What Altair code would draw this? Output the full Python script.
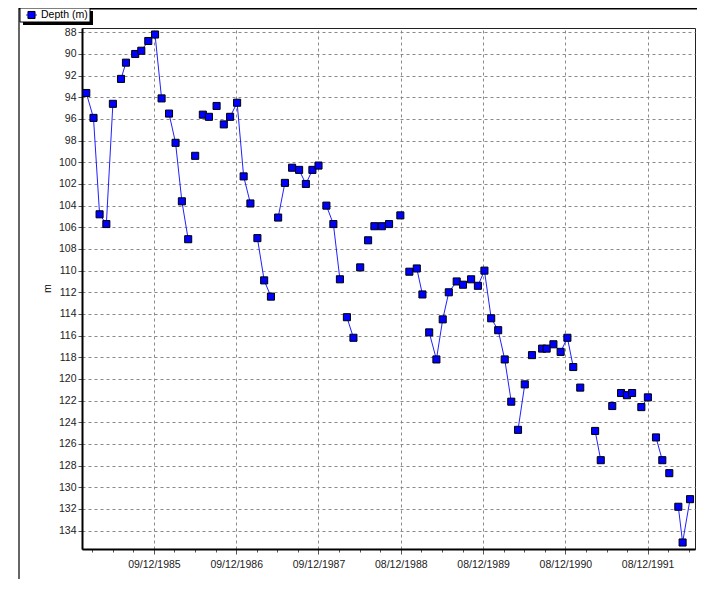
import altair as alt
import pandas as pd

# ---- data ----
dates = [
    "1985-02-12", "1985-03-16", "1985-04-12", "1985-05-12", "1985-06-10",
    "1985-07-16", "1985-08-07", "1985-09-17", "1985-10-14", "1985-11-14",
    "1985-12-14", "1986-01-12", "1986-02-14", "1986-03-15", "1986-04-12",
    "1986-05-10", "1986-06-10", "1986-07-14", "1986-08-10", "1986-09-13",
    "1986-10-15", "1986-11-12", "1986-12-13", "1987-01-11", "1987-02-10",
    "1987-03-13", "1987-04-12", "1987-05-12", "1987-06-13", "1987-07-13",
    "1987-08-14", "1987-09-14", "1987-10-14", "1987-11-12", "1987-12-09",
    "1988-01-13", "1988-02-13", "1988-03-13", "1988-04-13", "1988-05-12",
    "1988-06-11", "1988-07-16", "1988-08-13", "1988-09-15", "1988-10-17",
    "1988-12-06", "1989-01-15", "1989-02-17", "1989-03-14", "1989-04-13",
    "1989-05-15", "1989-06-12", "1989-07-09", "1989-08-13", "1989-09-10",
    "1989-10-16", "1989-11-15", "1989-12-14", "1990-01-13", "1990-02-13",
    "1990-03-14", "1990-04-12", "1990-05-12", "1990-06-11", "1990-07-13",
    "1990-08-27", "1990-09-16", "1990-10-16", "1990-11-17", "1990-12-17",
    "1991-01-12", "1991-02-12", "1991-04-19", "1991-05-14", "1991-07-04",
    "1991-08-12", "1991-09-07", "1991-09-30", "1991-11-10", "1991-12-09",
    "1992-01-14", "1992-02-11", "1992-03-13", "1992-04-22", "1992-05-11",
    "1992-06-13",
]
depth = [
    93.6, 95.9, 104.8, 105.7, 94.6,
    92.3, 90.8, 90.0, 89.7, 88.8,
    88.2, 94.1, 95.5, 98.2, 103.6,
    107.1, 99.4, 95.6, 95.8, 94.8,
    96.5, 95.8, 94.5, 101.3, 103.8,
    107.0, 110.9, 112.4, 105.1, 101.9,
    100.5, 100.7, 102.0, 100.7, 100.3,
    104.0, 105.7, 110.8, 114.3, 116.2,
    109.7, 107.2, 105.9, 105.9, 105.7,
    104.9, 110.1, 109.8, 112.2, 115.7,
    118.2, 114.5, 112.0, 111.0, 111.3,
    110.8, 111.4, 110.0, 114.4, 115.5,
    118.2, 122.1, 124.7, 120.5, 117.8,
    117.2, 117.2, 116.8, 117.5, 116.2,
    118.9, 120.8, 124.8, 127.5, 122.5,
    121.3, 121.5, 121.3, 122.6, 121.7,
    125.4, 127.5, 128.7, 131.8, 135.1,
    131.1,
]
# groups of readings joined by a line
segment = [
    1, 1, 1, 1, 1,
    2, 2, 3, 3, 3,
    3, 3, 4, 4, 4,
    4, 5, 6, 6, 7,
    8, 8, 8, 8, 8,
    9, 9, 9, 10, 10,
    11, 11, 11, 11, 11,
    12, 12, 12, 13, 13,
    14, 15, 16, 16, 16,
    17, 18, 18, 18, 19,
    19, 19, 19, 19, 19,
    19, 19, 19, 19, 19,
    19, 19, 20, 20, 21,
    22, 22, 22, 22, 22,
    22, 23, 24, 24, 25,
    26, 26, 26, 27, 27,
    28, 28, 29, 30, 30,
    30,
]
series_name = "Depth (m)"
y_ticks = list(range(88, 135, 2))
first_tick = "1985-12-09"          # axis ticks every 365 days, minor every quarter
font = "Liberation Sans"

df = pd.DataFrame({"date": dates, "depth": depth, "segment": segment})

base_ms = pd.Timestamp(first_tick).value // 10**6
day_ms = 86400000
x_tick_values = [int(base_ms + round(k * 91.25 * day_ms)) for k in range(-3, 27)]
major = "utcmonth(datum.value) == 11"

x_enc = alt.X(
    "date:T",
    scale=alt.Scale(
        type="utc",
        domain=[alt.DateTime(year=1985, month=1, date=24, utc=True),
                alt.DateTime(year=1992, month=7, date=5, utc=True)],
        nice=False,
    ),
    axis=alt.Axis(
        values=x_tick_values,
        labelExpr=f"{major} ? utcFormat(datum.value, '%d/%m/%Y') : ''",
        title=None,
        grid=True,
        gridColor="#8a8a8a",
        gridDash=[3, 3],
        gridWidth=1,
        gridOpacity={"condition": {"test": major, "value": 1}, "value": 0},
        tickSize={"condition": {"test": major, "value": 5}, "value": 3},
        tickColor="#555555",
        domainColor="#000000",
        domainWidth=2,
        labelFont=font,
        labelFontSize=10.5,
        labelColor="#222222",
        labelPadding=5,
        labelOverlap=False,
        labelFlush=False,
    ),
)
y_enc = alt.Y(
    "depth:Q",
    scale=alt.Scale(domain=[87.6, 135.7], reverse=True, nice=False, zero=False),
    axis=alt.Axis(
        values=y_ticks,
        title="m",
        titleFont=font,
        titleFontSize=10.5,
        titleFontWeight="normal",
        titleColor="#000000",
        titleAngle=270,
        titleX=-35,
        titleY=260,
        titleAlign="center",
        titleBaseline="middle",
        grid=True,
        gridColor="#8a8a8a",
        gridDash=[3, 3],
        gridWidth=1,
        tickSize=4,
        tickColor="#555555",
        domainColor="#000000",
        domainWidth=2,
        labelFont=font,
        labelFontSize=10.5,
        labelColor="#222222",
        labelPadding=2,
    ),
)

lines = alt.Chart(df).mark_line(color="#2020ff", strokeWidth=1).encode(
    x=x_enc, y=y_enc, detail="segment:N"
)
points = alt.Chart(df).mark_square(
    size=50, filled=True, fill="#0000ff", stroke="#000000", strokeWidth=1, opacity=1
).encode(x=x_enc, y=y_enc)

one = alt.Data(values=[{"k": 0}])

frame_left = alt.Chart(one).mark_rule(color="#666666", strokeWidth=2).encode(
    x=alt.value(-63), y=alt.value(-20), y2=alt.value(600)
)
frame_top = alt.Chart(one).mark_rule(color="#000000", strokeWidth=2).encode(
    x=alt.value(-63), x2=alt.value(640), y=alt.value(-19.5)
)
legend_shadow = alt.Chart(one).mark_rect(color="#000000").encode(
    x=alt.value(-59), x2=alt.value(11), y=alt.value(-17), y2=alt.value(-3)
)
legend_box = alt.Chart(one).mark_rect(
    fill="#ffffff", stroke="#000000", strokeWidth=1
).encode(x=alt.value(-62), x2=alt.value(8), y=alt.value(-20), y2=alt.value(-6))
legend_line = alt.Chart(one).mark_rule(color="#2020ff", strokeWidth=1).encode(
    x=alt.value(-56), x2=alt.value(-45), y=alt.value(-13)
)
legend_sym = alt.Chart(one).mark_square(
    size=50, filled=True, fill="#0000ff", stroke="#000000", strokeWidth=1, opacity=1
).encode(x=alt.value(-50.5), y=alt.value(-13))
legend_text = alt.Chart(one).mark_text(
    text=series_name, align="left", baseline="middle", font=font,
    fontSize=10.5, color="#000000"
).encode(x=alt.value(-41), y=alt.value(-13))

chart = alt.layer(
    frame_left, frame_top, lines, points,
    legend_shadow, legend_box, legend_line, legend_sym, legend_text,
).properties(
    width=613,
    height=521,
    autosize=alt.AutoSizeParams(type="none"),
    padding={"left": 74, "top": 20, "right": 2, "bottom": 30},
    background="#ffffff",
).configure_view(stroke="#222222", strokeWidth=1)

chart.save("out.html", embed_options={"renderer": "svg", "actions": False})
